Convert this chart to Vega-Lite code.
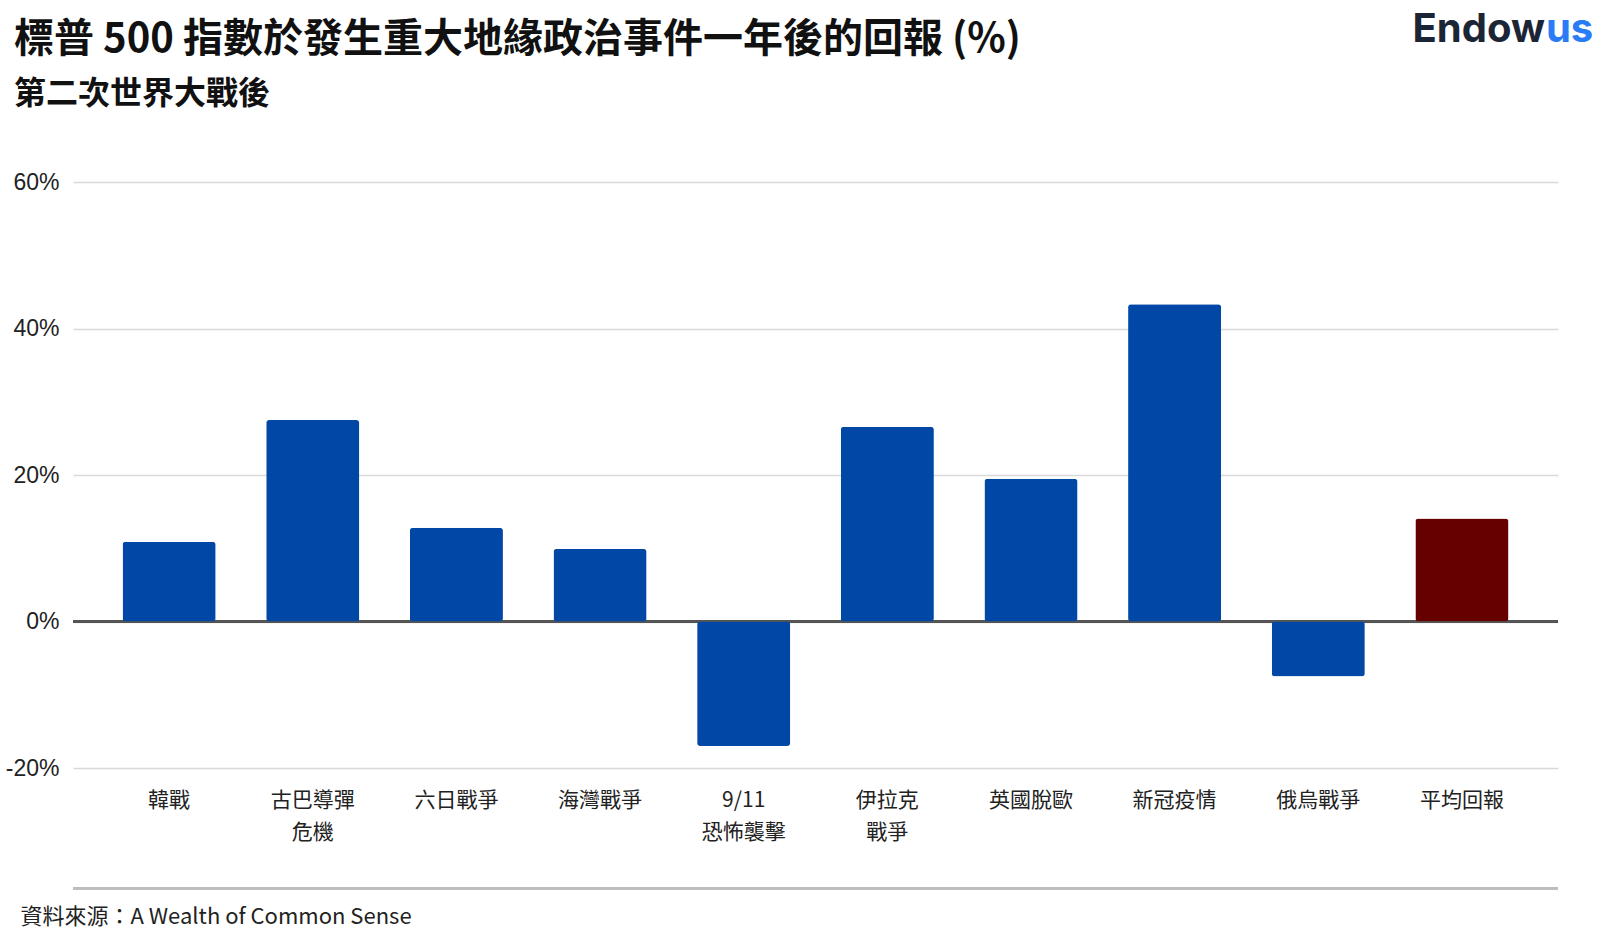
{
  "$schema": "https://vega.github.io/schema/vega-lite/v6.json",
  "autosize": {"type": "none"},
  "width": 1485,
  "height": 586,
  "padding": {"left": 73, "top": 182, "right": 42, "bottom": 162},
  "background": "white",
  "config": {"view": {"stroke": null}},
  "title": {
    "text": "標普 500 指數於發生重大地緣政治事件一年後的回報 (%)",
    "subtitle": "第二次世界大戰後",
    "anchor": "start",
    "frame": "group",
    "dx": -59,
    "offset": -100,
    "font": "Noto Sans CJK TC",
    "fontSize": 40,
    "fontWeight": "bold",
    "color": "#111111",
    "subtitleFont": "Noto Sans CJK TC",
    "subtitleFontSize": 32,
    "subtitleFontWeight": "bold",
    "subtitleColor": "#111111",
    "subtitlePadding": 19
  },
  "data": {
    "values": [
      {"event": "韓戰", "ret": 10.9, "kind": "事件"},
      {"event": "古巴導彈\n危機", "ret": 27.5, "kind": "事件"},
      {"event": "六日戰爭", "ret": 12.8, "kind": "事件"},
      {"event": "海灣戰爭", "ret": 9.9, "kind": "事件"},
      {"event": "9/11\n恐怖襲擊", "ret": -17.0, "kind": "事件"},
      {"event": "伊拉克\n戰爭", "ret": 26.6, "kind": "事件"},
      {"event": "英國脫歐", "ret": 19.5, "kind": "事件"},
      {"event": "新冠疫情", "ret": 43.3, "kind": "事件"},
      {"event": "俄烏戰爭", "ret": -7.5, "kind": "事件"},
      {"event": "平均回報", "ret": 14.05, "kind": "平均"}
    ]
  },
  "layer": [
    {
      "mark": {"type": "rule", "color": "#bdbdbd", "strokeWidth": 2},
      "encoding": {
        "y": {"datum": -36.4, "type": "quantitative", "scale": {"domain": [-20, 60], "nice": false}}
      }
    },
    {
      "mark": {"type": "rule", "color": "#555555", "strokeWidth": 2},
      "encoding": {
        "y": {"datum": 0, "type": "quantitative"}
      }
    },
    {
      "mark": {"type": "bar", "cornerRadius": 3},
      "encoding": {
        "x": {
          "field": "event",
          "type": "nominal",
          "sort": null,
          "scale": {"paddingInner": 0.352, "paddingOuter": 0.345},
          "axis": {
            "title": "資料來源：A Wealth of Common Sense",
            "titleFont": "Noto Sans CJK TC",
            "titleFontSize": 22,
            "titleFontWeight": "normal",
            "titleColor": "#222222",
            "titleAnchor": "start",
            "titleAlign": "left",
            "titleBaseline": "middle",
            "titleX": -53,
            "titleY": 148,
            "labelExpr": "split(datum.label, '\\n')",
            "labelAngle": 0,
            "labelFont": "Noto Sans CJK TC",
            "labelFontSize": 21,
            "labelColor": "#222222",
            "labelLineHeight": 32,
            "labelBaseline": "top",
            "labelPadding": 21,
            "domain": false,
            "ticks": false,
            "grid": false
          }
        },
        "y": {
          "field": "ret",
          "type": "quantitative",
          "scale": {"domain": [-20, 60], "nice": false},
          "axis": {
            "title": null,
            "values": [-20, 0, 20, 40, 60],
            "labelExpr": "datum.value + '%'",
            "labelFont": "Liberation Sans",
            "labelFontSize": 23,
            "labelColor": "#222222",
            "labelPadding": 14,
            "domain": false,
            "ticks": false,
            "grid": true,
            "gridColor": "#d9d9d9",
            "gridWidth": 1.5
          }
        },
        "color": {
          "field": "kind",
          "type": "nominal",
          "scale": {"domain": ["事件", "平均"], "range": ["#0047a6", "#660000"]},
          "legend": null
        }
      }
    },
    {
      "data": {"values": [{"logo": "Endow"}]},
      "mark": {"type": "text", "align": "right", "baseline": "middle", "dx": 83, "font": "Inter", "fontSize": 40, "fontWeight": "bold", "color": "#1c2536"},
      "encoding": {
        "x": {"datum": "平均回報", "type": "nominal"},
        "y": {"datum": 80.8, "type": "quantitative"},
        "text": {"field": "logo"}
      }
    },
    {
      "data": {"values": [{"logo": "us"}]},
      "mark": {"type": "text", "align": "left", "baseline": "middle", "dx": 84, "font": "Inter", "fontSize": 40, "fontWeight": "bold", "color": "#2a7cf6"},
      "encoding": {
        "x": {"datum": "平均回報", "type": "nominal"},
        "y": {"datum": 80.8, "type": "quantitative"},
        "text": {"field": "logo"}
      }
    }
  ]
}
